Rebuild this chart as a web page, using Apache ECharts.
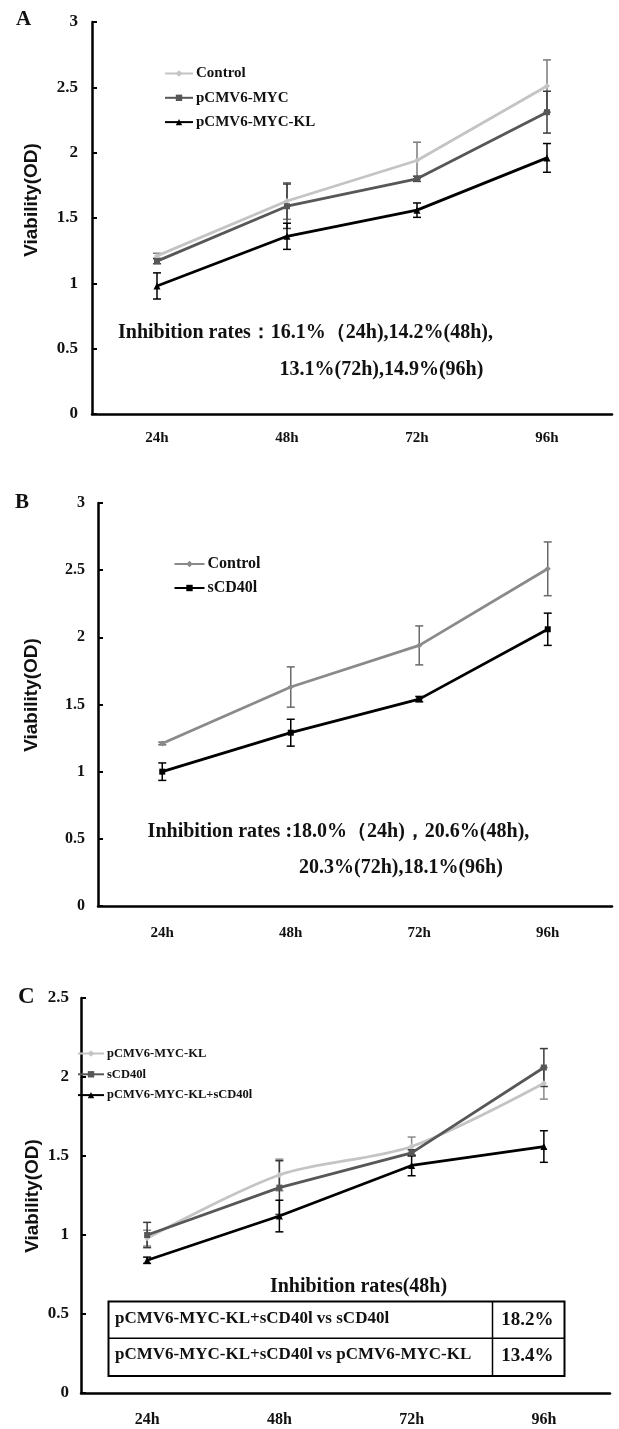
<!DOCTYPE html>
<html><head><meta charset="utf-8">
<script src="https://cdn.jsdelivr.net/npm/echarts/dist/echarts.min.js"></script>
<style>html,body{margin:0;padding:0;background:#fff}#c{width:619px;height:1429px}</style>
</head><body><div id="c"></div>
<script>
// ---------- data ----------
const categories = ['24h', '48h', '72h', '96h'];

const aControl = [1.21, 1.63, 1.94, 2.51];
const aControlErr = [0.02, 0.14, 0.14, 0.20];
const aMyc = [1.17, 1.59, 1.80, 2.31];
const aMycErr = [0.02, 0.17, 0.02, 0.16];
const aKl = [0.98, 1.36, 1.56, 1.96];
const aKlErr = [0.10, 0.10, 0.055, 0.11];

const bControl = [1.21, 1.63, 1.94, 2.51];
const bControlErr = [0.01, 0.15, 0.145, 0.20];
const bScd = [1.00, 1.29, 1.54, 2.06];
const bScdErr = [0.065, 0.10, 0.02, 0.12];

const cKl = [0.98, 1.38, 1.56, 1.96];
const cKlErr = [0.05, 0.10, 0.06, 0.10];
const cScd = [1.00, 1.30, 1.52, 2.06];
const cScdErr = [0.08, 0.17, 0.02, 0.12];
const cCombo = [0.84, 1.12, 1.44, 1.56];
const cComboErr = [0.02, 0.10, 0.065, 0.10];

const legendA = ['Control', 'pCMV6-MYC', 'pCMV6-MYC-KL'];
const legendB = ['Control', 'sCD40l'];
const legendC = ['pCMV6-MYC-KL', 'sCD40l', 'pCMV6-MYC-KL+sCD40l'];

const noteA = ['Inhibition rates：16.1%（24h),14.2%(48h),', '13.1%(72h),14.9%(96h)'];
const noteB = ['Inhibition rates :18.0%（24h)，20.6%(48h),', '20.3%(72h),18.1%(96h)'];
const tableTitle = 'Inhibition rates(48h)';
const tableRows = ['pCMV6-MYC-KL+sCD40l vs sCD40l', 'pCMV6-MYC-KL+sCD40l vs pCMV6-MYC-KL'];
const tableRates = ['18.2%', '13.4%'];
const yTitle = 'Viability(OD)';

// ---------- style ----------
const SERIF = "'Liberation Serif', 'Times New Roman', serif";
const SANS = "'Liberation Sans', Arial, sans-serif";
const LIGHT = '#c4c4c4', MID = '#8a8a8a', DARK = '#575757', BLACK = '#000';

const chart = echarts.init(document.getElementById('c'), null, {renderer: 'canvas'});

function xAx(gi, fs, margin) {
  return {type: 'category', gridIndex: gi, data: categories, boundaryGap: true,
    axisLine: {lineStyle: {color: '#000', width: 2.5}},
    axisTick: {inside: true, length: 5, lineStyle: {color: '#000', width: 2}},
    axisLabel: {margin: margin, fontFamily: SERIF, fontWeight: 'bold', fontSize: fs, color: '#111'},
    splitLine: {show: false}};
}
function yAx(gi, max, fs, margin) {
  return {type: 'value', gridIndex: gi, min: 0, max: max, interval: 0.5,
    axisLine: {show: true, lineStyle: {color: '#000', width: 2.5}},
    axisTick: {show: true, inside: true, length: 5, lineStyle: {color: '#000', width: 2}},
    axisLabel: {margin: margin, fontFamily: SERIF, fontWeight: 'bold', fontSize: fs, color: '#111'},
    splitLine: {show: false}};
}
function lineS(gi, name, vals, color, symbol, size, smooth) {
  return {type: 'line', name: name, xAxisIndex: gi, yAxisIndex: gi, data: vals,
    symbol: symbol, symbolSize: size, smooth: smooth || false, z: 3,
    lineStyle: {color: color, width: 2.8}, itemStyle: {color: color}, animation: false};
}
function errS(gi, vals, errs, color) {
  return {type: 'custom', xAxisIndex: gi, yAxisIndex: gi, z: 2, silent: true, animation: false,
    data: vals.map((v, i) => [i, v - errs[i], v + errs[i]]),
    encode: {x: 0, y: [1, 2]},
    renderItem: function (params, api) {
      const lo = api.coord([api.value(0), api.value(1)]);
      const hi = api.coord([api.value(0), api.value(2)]);
      const w = 4;
      const st = {stroke: color, lineWidth: 1.5};
      return {type: 'group', children: [
        {type: 'line', shape: {x1: lo[0], y1: lo[1], x2: hi[0], y2: hi[1]}, style: st},
        {type: 'line', shape: {x1: lo[0] - w, y1: lo[1], x2: lo[0] + w, y2: lo[1]}, style: st},
        {type: 'line', shape: {x1: hi[0] - w, y1: hi[1], x2: hi[0] + w, y2: hi[1]}, style: st}
      ]};
    }};
}
function legendCfg(prefix, names, left, top, iw, gap, fs) {
  return {data: names.map(n => prefix + '|' + n), orient: 'vertical', left: left, top: top,
    itemWidth: iw, itemHeight: 8, itemGap: gap, selectedMode: false, padding: 0,
    formatter: n => n.split('|')[1],
    textStyle: {fontFamily: SERIF, fontWeight: 'bold', fontSize: fs, color: '#111', padding: [0, 0, 0, -2]}};
}
function txt(x, y, text, font, align, extra) {
  return Object.assign({type: 'text', x: x, y: y, silent: true,
    style: {text: text, font: font, fill: '#111', align: align || 'left', verticalAlign: 'middle'}}, extra || {});
}

const graphics = [
  txt(16, 20, 'A', 'bold 21px ' + SERIF),
  txt(15, 503, 'B', 'bold 21px ' + SERIF),
  txt(18, 997, 'C', 'bold 23px ' + SERIF),
  txt(32, 200, yTitle, 'bold 19px ' + SANS, 'center', {rotation: Math.PI / 2}),
  txt(31.5, 695, yTitle, 'bold 19px ' + SANS, 'center', {rotation: Math.PI / 2}),
  txt(33, 1196, yTitle, 'bold 19px ' + SANS, 'center', {rotation: Math.PI / 2}),
  txt(118, 333, noteA[0], 'bold 20px ' + SERIF),
  txt(279.5, 370, noteA[1], 'bold 20px ' + SERIF),
  txt(147.6, 832, noteB[0], 'bold 20px ' + SERIF),
  txt(299, 868, noteB[1], 'bold 20px ' + SERIF),
  txt(358.5, 1287, tableTitle, 'bold 20px ' + SERIF, 'center'),
  {type: 'rect', silent: true, shape: {x: 108.5, y: 1301.5, width: 456, height: 74.5},
    style: {fill: 'none', stroke: '#000', lineWidth: 2}},
  {type: 'line', silent: true, shape: {x1: 108.5, y1: 1338.3, x2: 564.5, y2: 1338.3},
    style: {stroke: '#000', lineWidth: 1.5}},
  {type: 'line', silent: true, shape: {x1: 492.5, y1: 1301.5, x2: 492.5, y2: 1376},
    style: {stroke: '#000', lineWidth: 1.5}},
  txt(115, 1318.3, tableRows[0], 'bold 17px ' + SERIF),
  txt(115, 1355, tableRows[1], 'bold 17px ' + SERIF),
  txt(527.3, 1320, tableRates[0], 'bold 19px ' + SERIF, 'center'),
  txt(527.3, 1356.5, tableRates[1], 'bold 19px ' + SERIF, 'center')
];

const option = {
  backgroundColor: '#fff',
  animation: false,
  grid: [
    {left: 92, top: 22, width: 520, height: 392},
    {left: 98, top: 503, width: 514, height: 403},
    {left: 81, top: 998, width: 529, height: 395}
  ],
  xAxis: [xAx(0, 15, 17), xAx(1, 15, 20), xAx(2, 16, 19)],
  yAxis: [yAx(0, 3, 17, 14), yAx(1, 3, 16, 13), yAx(2, 2.5, 17, 12)],
  legend: [
    legendCfg('A', legendA, 164, 66, 28, 9.3, 15),
    legendCfg('B', legendB, 173.5, 556, 30, 8, 16),
    legendCfg('C', legendC, 77, 1047, 26, 7.8, 12.5)
  ],
  series: [
    errS(0, aControl, aControlErr, '#7a7a7a'),
    errS(0, aMyc, aMycErr, '#3a3a3a'),
    errS(0, aKl, aKlErr, BLACK),
    lineS(0, 'A|Control', aControl, LIGHT, 'diamond', 6),
    lineS(0, 'A|pCMV6-MYC', aMyc, DARK, 'rect', 6),
    lineS(0, 'A|pCMV6-MYC-KL', aKl, BLACK, 'triangle', 7),

    errS(1, bControl, bControlErr, '#6a6a6a'),
    errS(1, bScd, bScdErr, BLACK),
    lineS(1, 'B|Control', bControl, MID, 'diamond', 6),
    lineS(1, 'B|sCD40l', bScd, BLACK, 'rect', 6),

    errS(2, cKl, cKlErr, '#8a8a8a'),
    errS(2, cScd, cScdErr, '#3a3a3a'),
    errS(2, cCombo, cComboErr, BLACK),
    lineS(2, 'C|pCMV6-MYC-KL', cKl, LIGHT, 'diamond', 6, 0.3),
    lineS(2, 'C|sCD40l', cScd, DARK, 'rect', 6),
    lineS(2, 'C|pCMV6-MYC-KL+sCD40l', cCombo, BLACK, 'triangle', 7)
  ],
  graphic: graphics
};
chart.setOption(option);
</script>
</body></html>
